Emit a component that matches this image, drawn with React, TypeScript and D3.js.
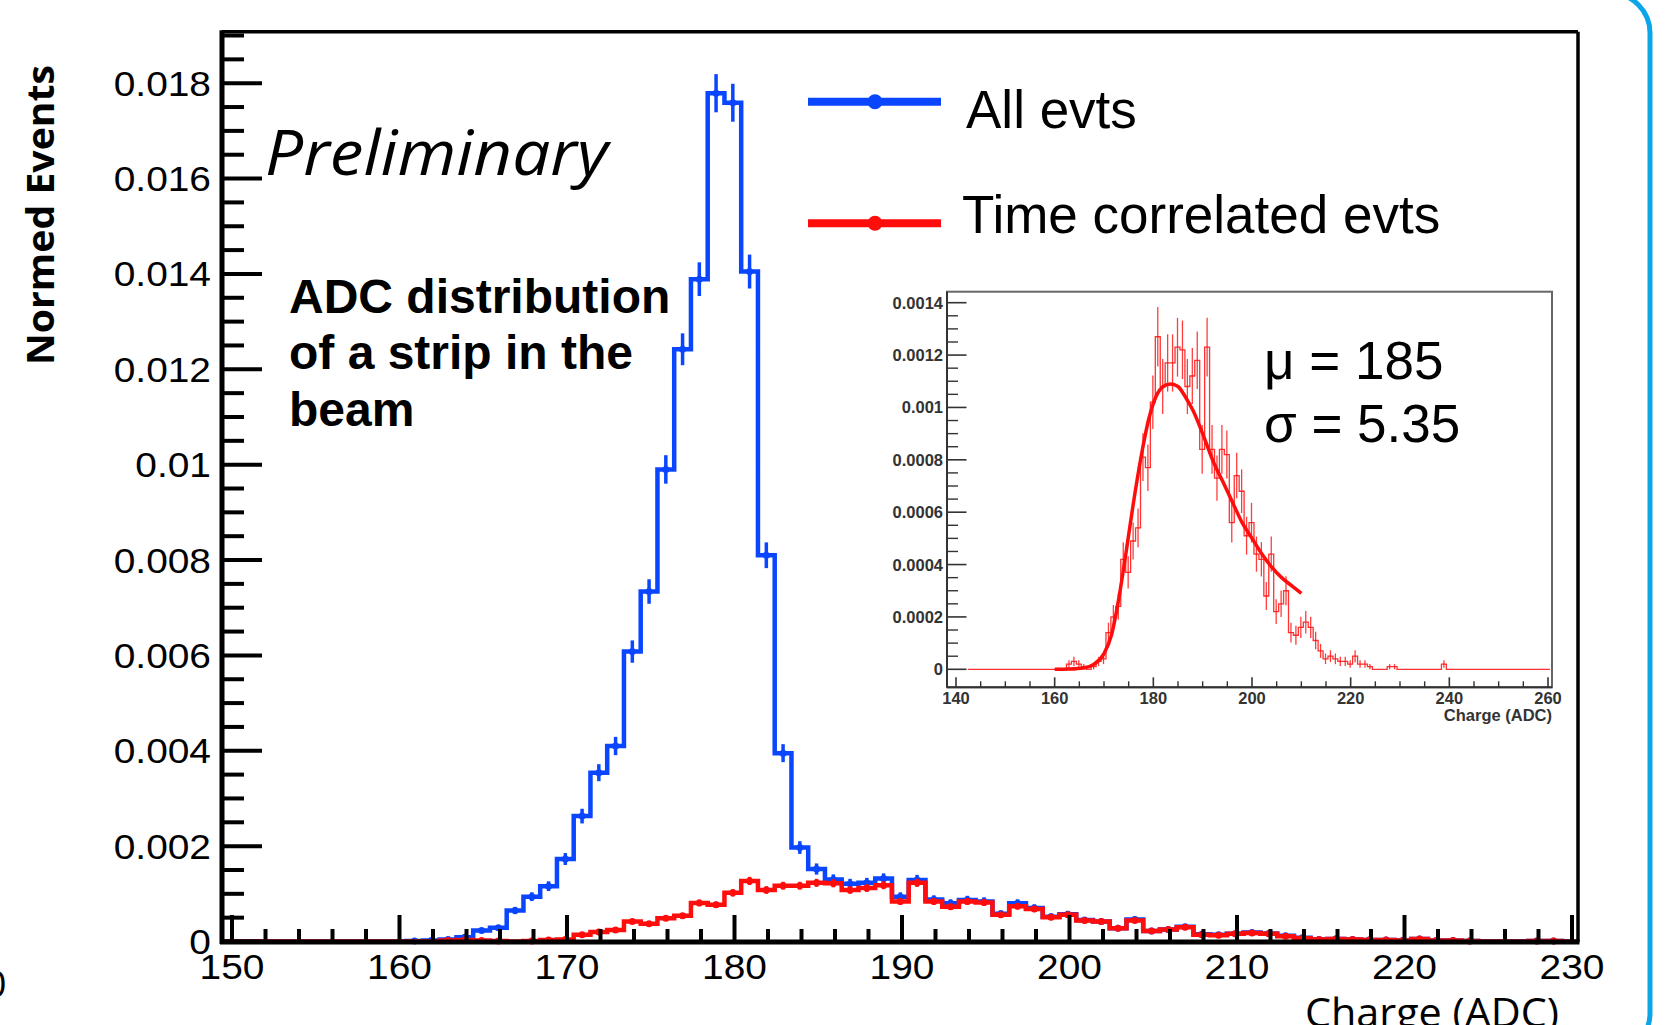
import React from 'react';
import * as d3 from 'd3';

// ---------- data ----------
const binStart = 149.4; // lower edge of first bin (ADC)
const binWidth = 1;

const xTickValues = [150, 160, 170, 180, 190, 200, 210, 220, 230];
const xTickLabels = ['150', '160', '170', '180', '190', '200', '210', '220', '230'];
const yTickValues = [0, 0.002, 0.004, 0.006, 0.008, 0.01, 0.012, 0.014, 0.016, 0.018];
const yTickLabels = ['0', '0.002', '0.004', '0.006', '0.008', '0.01', '0.012', '0.014', '0.016', '0.018'];

// All events (blue), bins of 1 ADC starting at 149.4
const allEvts = [
  0, 0, 0, 0, 0, 0, 0, 0, 0, 0,
  0, 0.00001, 0.00002, 0.00004, 0.00009, 0.00023, 0.00029, 0.00065, 0.00094, 0.00116,
  0.00173, 0.00263, 0.00354, 0.0041, 0.00608, 0.00734, 0.0099, 0.01242, 0.01389, 0.01779,
  0.01759, 0.01405, 0.0081, 0.00395, 0.00197, 0.00152, 0.0013, 0.00121, 0.00123, 0.00132,
  0.00094, 0.00129, 0.00088, 0.0008, 0.00087, 0.00084, 0.00058, 0.0008, 0.0007, 0.00052,
  0.00057, 0.00045, 0.00042, 0.00028, 0.00046, 0.00022, 0.00025, 0.00031, 0.00015, 0.00014,
  0.00016, 0.00019, 0.00017, 0.00012, 0.00008, 0.00004, 0.00005, 0.00004, 0.00003, 0.00003,
  0.00002, 0.00005, 0.00002, 0.00002, 0.00001, 0, 0, 0, 0.00001, 0.00001,
  0,
];

// Time correlated events (red)
const timeCorrEvts = [
  0, 0, 0, 0, 0, 0, 0, 0, 0, 0,
  0, 0, 0, 0.00002, 0.00003, 0.00002, 0.00001, 0, 0.00001, 0.00003,
  0.00004, 0.00014, 0.0002, 0.00024, 0.00042, 0.00037, 0.00049, 0.00054, 0.00081, 0.00077,
  0.00102, 0.00127, 0.00108, 0.00117, 0.00117, 0.00123, 0.00122, 0.00108, 0.00112, 0.00118,
  0.00084, 0.00123, 0.00084, 0.00073, 0.00084, 0.00082, 0.00056, 0.00074, 0.00068, 0.00051,
  0.00056, 0.00044, 0.00042, 0.00028, 0.00044, 0.00022, 0.00025, 0.0003, 0.00014, 0.00013,
  0.00016, 0.00018, 0.00016, 0.00011, 0.00007, 0.00004, 0.00005, 0.00004, 0.00003, 0.00003,
  0.00002, 0.00005, 0.00002, 0.00002, 0.00001, 0, 0, 0, 0.00001, 0.00001,
  0,
];

// Inset: same histogram, wider range
const insetStart = 142.4;
const insetPrefix = [0, 0, 0, 0, 0, 0, 0];
const insetSuffix = [
  0, 0, 0, 0, 0, 0, 0, 0, 0.00002, 0,
  0, 0, 0, 0, 0, 0, 0, 0, 0, 0,
  0, 0, 0, 0, 0, 0, 0, 0, 0, 0,
];
const insetXTicks = [140, 160, 180, 200, 220, 240, 260];
const insetXLabels = ['140', '160', '180', '200', '220', '240', '260'];
const insetYTicks = [0, 0.0002, 0.0004, 0.0006, 0.0008, 0.001, 0.0012, 0.0014];
const insetYLabels = ['0', '0.0002', '0.0004', '0.0006', '0.0008', '0.001', '0.0012', '0.0014'];

// Fit curve
const fitX = [160, 163, 166, 168, 170, 171.5, 173, 174.5, 176, 177.5, 179, 180.5, 182, 183.5, 185, 186.5, 188, 190, 192, 194, 196, 198, 200, 202, 204, 206, 208, 210];
const fitY = [0, 0.000001, 0.000006, 0.00002, 0.00006, 0.00013, 0.00027, 0.00045, 0.00064, 0.00081, 0.00095, 0.00104, 0.00108, 0.00109, 0.00108, 0.00104, 0.00099, 0.0009, 0.0008, 0.00072, 0.00064, 0.00056, 0.0005, 0.00044, 0.00039, 0.00035, 0.00032, 0.00029];

const legendLabels = ['All evts', 'Time correlated evts'];

const BLUE = '#0a46ff';
const RED = '#ff0d0d';
const SANS = '"Liberation Sans", Arial, Helvetica, sans-serif';
const HUMAN = '"Open Sans", "Noto Sans", sans-serif';

function stepPath(vals: number[], start: number, xs: any, ys: any) {
  const pts: [number, number][] = [];
  vals.forEach((v, i) => {
    const a = start + i * binWidth;
    pts.push([xs(a), ys(v)]);
    pts.push([xs(a + binWidth), ys(v)]);
  });
  return d3.line()(pts) || '';
}

function Hist({ vals, start, xs, ys, color, errC, lw, ew, r }: any) {
  return (
    <g>
      <path d={stepPath(vals, start, xs, ys)} fill="none" stroke={color} strokeWidth={lw} strokeLinejoin="miter" />
      {vals.map((v: number, i: number) => {
        if (v <= 0) return null;
        const c = start + (i + 0.5) * binWidth;
        const e = errC * Math.sqrt(v);
        return (
          <g key={i}>
            <line x1={xs(c)} x2={xs(c)} y1={ys(v - e)} y2={ys(v + e)} stroke={color} strokeWidth={ew} />
            {r > 0 && <circle cx={xs(c)} cy={ys(v)} r={r} fill={color} />}
          </g>
        );
      })}
    </g>
  );
}

export default function App() {
  const W = 1672, H = 1025;
  const x = d3.scaleLinear().domain([150, 230]).range([232, 1572]);
  const y = d3.scaleLinear().domain([0, 0.018]).range([941.5, 83.2]);
  const fL = 222, fR = 1578, fT = 31.7, fB = 942;
  const stretch = 1.08;

  const xMinor = d3.range(150, 230.1, 2).filter((v) => v % 10 !== 0);
  const yMinor = d3.range(0, 0.01905, 0.0005).filter((v) => Math.abs(v / 0.002 - Math.round(v / 0.002)) > 1e-6);

  // inset
  const ix = d3.scaleLinear().domain([140, 260]).range([956, 1548]);
  const iy = d3.scaleLinear().domain([0, 0.0014]).range([669.3, 302.7]);
  const iL = 947, iR = 1552, iT = 291.7, iB = 687.3;
  const insetVals = [...insetPrefix, ...timeCorrEvts, ...insetSuffix];
  const ixMinor = d3.range(140, 260.1, 5).filter((v) => v % 20 !== 0);
  const iyMinor = d3.range(0, 0.00144, 0.00005).filter((v) => Math.abs(v / 0.0002 - Math.round(v / 0.0002)) > 1e-6);
  const fitPath = d3.line<number>().x((d, i) => ix(fitX[i])).y((d) => iy(d)).curve(d3.curveMonotoneX)(fitY) || '';

  return (
    <svg width={W} height={H} viewBox={`0 0 ${W} ${H}`} style={{ position: 'absolute', left: 0, top: 0, background: '#fff' }}>
      <rect x={0} y={0} width={W} height={H} fill="#fff" />

      {/* slide border */}
      <rect x={-100} y={-7} width={1750} height={1060} rx={40} ry={40} fill="none" stroke="#0aa6e8" strokeWidth={5} />

      {/* cut text fragment at left */}
      <text x={6} y={997} textAnchor="end" fontFamily={SANS} fontSize={36} fill="#000">0</text>

      {/* histograms */}
      <Hist vals={allEvts} start={binStart} xs={x} ys={y} color={BLUE} errC={0.003} lw={4.5} ew={3.5} r={3.5} />
      <Hist vals={timeCorrEvts} start={binStart} xs={x} ys={y} color={RED} errC={0.0024} lw={4.5} ew={3.5} r={3.5} />

      {/* frame */}
      <line x1={fL} x2={fR} y1={fT} y2={fT} stroke="#000" strokeWidth={3.5} />
      <line x1={fR} x2={fR} y1={fT} y2={fB} stroke="#000" strokeWidth={3.5} />
      <line x1={fL} x2={fL} y1={fT - 1.5} y2={fB + 2} stroke="#000" strokeWidth={5} />
      <line x1={fL - 2} x2={fR + 1.5} y1={fB} y2={fB} stroke="#000" strokeWidth={5} />

      {/* x ticks */}
      {xTickValues.map((v, i) => (
        <g key={'xt' + i}>
          <line x1={x(v)} x2={x(v)} y1={fB} y2={fB - 27} stroke="#000" strokeWidth={4} />
          <text transform={`translate(${x(v)},979) scale(${stretch},1)`} textAnchor="middle" fontFamily={SANS} fontSize={36} fill="#000">{xTickLabels[i]}</text>
        </g>
      ))}
      {xMinor.map((v, i) => (
        <line key={'xm' + i} x1={x(v)} x2={x(v)} y1={fB} y2={fB - 13} stroke="#000" strokeWidth={4} />
      ))}

      {/* y ticks */}
      {yTickValues.map((v, i) => (
        <g key={'yt' + i}>
          <line x1={fL} x2={fL + 40} y1={y(v)} y2={y(v)} stroke="#000" strokeWidth={4} />
          <text transform={`translate(211,${y(v) + 12.5}) scale(${stretch},1)`} textAnchor="end" fontFamily={SANS} fontSize={36} fill="#000">{yTickLabels[i]}</text>
        </g>
      ))}
      {yMinor.map((v, i) => (
        <line key={'ym' + i} x1={fL} x2={fL + 22} y1={y(v)} y2={y(v)} stroke="#000" strokeWidth={4} />
      ))}

      {/* axis titles */}
      <text transform="translate(54,215) rotate(-90)" textAnchor="middle" fontFamily={HUMAN} fontWeight="bold" fontSize={38} textLength={300} lengthAdjust="spacingAndGlyphs" fill="#000">Normed Events</text>
      <text x={1559} y={1027} textAnchor="end" fontFamily={HUMAN} fontSize={41} textLength={254} lengthAdjust="spacingAndGlyphs" fill="#000">Charge (ADC)</text>

      {/* annotations */}
      <text x={265} y={175} fontFamily={HUMAN} fontStyle="italic" fontSize={63} textLength={343} lengthAdjust="spacingAndGlyphs" fill="#000">Preliminary</text>
      <g fontFamily={SANS} fontWeight="bold" fontSize={48} fill="#000">
        <text x={289} y={312.5}>ADC distribution</text>
        <text x={289} y={369}>of a strip in the</text>
        <text x={289} y={425.5}>beam</text>
      </g>

      {/* legend */}
      {[BLUE, RED].map((c, i) => {
        const ly = i === 0 ? 101.7 : 223.3;
        const ty = i === 0 ? 128.3 : 233.3;
        const tx = i === 0 ? 966 : 962;
        return (
          <g key={'lg' + i}>
            <line x1={808} x2={941} y1={ly} y2={ly} stroke={c} strokeWidth={8} />
            <circle cx={875} cy={ly} r={7.5} fill={c} />
            <text x={tx} y={ty} fontFamily={SANS} fontSize={53} fill="#000">{legendLabels[i]}</text>
          </g>
        );
      })}

      {/* inset */}
      <g>
        <rect x={iL} y={iT} width={iR - iL} height={iB - iT} fill="#fff" stroke="#666" strokeWidth={2} />
        <path d={stepPath(insetVals, insetStart, ix, iy)} fill="none" stroke={RED} strokeOpacity={0.85} strokeWidth={1.3} />
        {insetVals.map((v, i) => {
          if (v <= 0) return null;
          const c = insetStart + (i + 0.5) * binWidth;
          const e = 0.0032 * Math.sqrt(v);
          return <line key={'ie' + i} x1={ix(c)} x2={ix(c)} y1={iy(v - e)} y2={iy(v + e)} stroke={RED} strokeOpacity={0.8} strokeWidth={1.3} />;
        })}
        <path d={fitPath} fill="none" stroke={RED} strokeWidth={3.5} />
        <line x1={iL} x2={iL} y1={iT} y2={iB} stroke="#333" strokeWidth={2} />
        <line x1={iL} x2={iR} y1={iB} y2={iB} stroke="#333" strokeWidth={2} />
        {insetYTicks.map((v, i) => (
          <g key={'iyt' + i}>
            <line x1={iL} x2={iL + 19.5} y1={iy(v)} y2={iy(v)} stroke="#333" strokeWidth={1.6} />
            <text x={943} y={iy(v) + 6} textAnchor="end" fontFamily={SANS} fontWeight="bold" fontSize={16.5} fill="#333">{insetYLabels[i]}</text>
          </g>
        ))}
        {iyMinor.map((v, i) => (
          <line key={'iym' + i} x1={iL} x2={iL + 11} y1={iy(v)} y2={iy(v)} stroke="#333" strokeWidth={1.4} />
        ))}
        {insetXTicks.map((v, i) => (
          <g key={'ixt' + i}>
            <line x1={ix(v)} x2={ix(v)} y1={iB} y2={iB - 10} stroke="#333" strokeWidth={1.6} />
            <text x={ix(v)} y={704} textAnchor="middle" fontFamily={SANS} fontWeight="bold" fontSize={16.5} fill="#333">{insetXLabels[i]}</text>
          </g>
        ))}
        {ixMinor.map((v, i) => (
          <line key={'ixm' + i} x1={ix(v)} x2={ix(v)} y1={iB} y2={iB - 6} stroke="#333" strokeWidth={1.4} />
        ))}
        <text x={1552} y={721} textAnchor="end" fontFamily={SANS} fontWeight="bold" fontSize={16.5} fill="#333">Charge (ADC)</text>
        <text x={1264} y={378.5} fontFamily={SANS} fontSize={53} fill="#000">μ = 185</text>
        <text x={1264} y={441.7} fontFamily={SANS} fontSize={53} fill="#000">σ = 5.35</text>
      </g>
    </svg>
  );
}
